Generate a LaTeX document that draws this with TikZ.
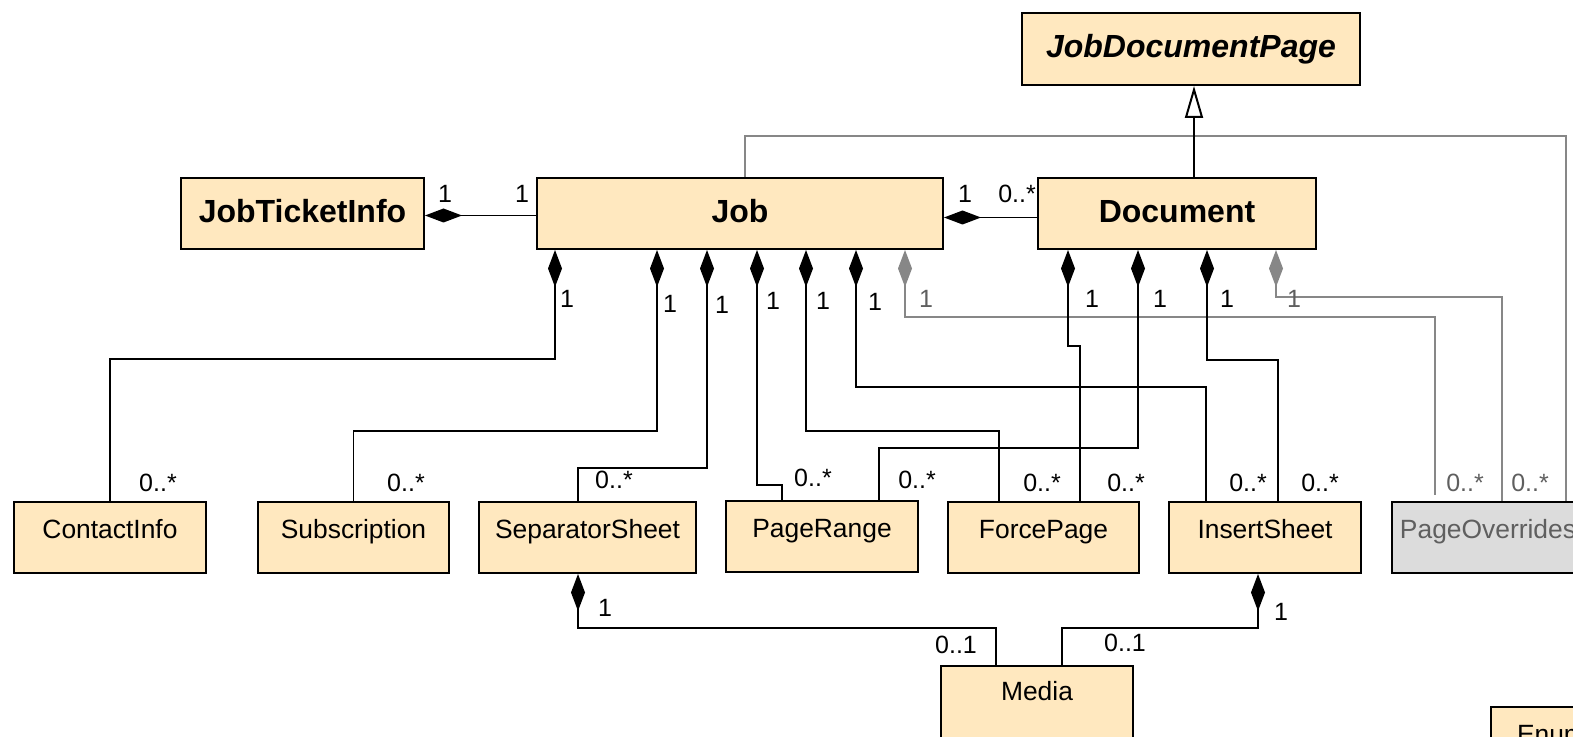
\documentclass[tikz,border=0pt]{standalone}
\usepackage{fontspec}
\setmainfont{Liberation Sans}
\usetikzlibrary{arrows.meta,calc}
\definecolor{clsfill}{RGB}{255,232,191}
\definecolor{ovrfill}{RGB}{220,220,220}
\definecolor{ovrline}{RGB}{135,135,135}
\definecolor{ovrtext}{RGB}{95,95,95}
\tikzset{
  cls/.style={draw, line width=1pt, fill=clsfill, anchor=north west, inner sep=0pt,
    font=\fontsize{13.2}{15}\selectfont, text height=18.2pt, text depth=17.3pt, minimum width=#1},
  cls/.default=96pt,
  bigcls/.style={cls=#1, font=\fontsize{16}{18}\selectfont\bfseries, text height=22.5pt, text depth=13pt},
  mult/.style={font=\fontsize{12.5}{14}\selectfont, inner sep=0pt},
  multg/.style={mult, text=ovrtext},
  comp/.style={draw, line width=0.8pt, {Diamond[length=18.5pt,width=7pt]}-},
  ovr/.style={draw=ovrline},
  gen/.style={draw, line width=0.8pt, -{Triangle[open,length=16pt,width=9pt,line width=1pt]}}
}
\begin{document}
\begin{tikzpicture}[x=0.5pt, y=-0.5pt]
    \clip (0,0) rectangle (1573,737);
    % classes
    \node[bigcls=169pt, font=\fontsize{16}{18}\selectfont\bfseries\itshape, text depth=13.5pt] (jdp) at (1021,12) {JobDocumentPage};
    \node[bigcls=121.5pt] (jti) at (180,177) {JobTicketInfo};
    \node[bigcls=203pt] (job) at (536,177) {Job};
    \node[bigcls=139pt] (doc) at (1037,177) {Document};
    \node[cls=96pt] (contact) at (13,501) {ContactInfo};
    \node[cls=95.5pt] (subscr) at (257,501) {Subscription};
    \node[cls=108.5pt] (sep) at (478,501) {SeparatorSheet};
    \node[cls=96pt] (prange) at (725,500) {PageRange};
    \node[cls=95.5pt] (force) at (947,501) {ForcePage};
    \node[cls=96pt] (insert) at (1168,501) {InsertSheet};
    \node[cls=96pt, fill=ovrfill, text=ovrtext] (povr) at (1391,501) {PageOverrides};
    \node[cls=96pt, text height=17pt, text depth=30pt] (media) at (940,665) {Media};
    \node[cls, inner xsep=3pt, text width=70pt, align=left] (enum) at (1490,706) {Enum};
    % job <-> neighbours
    \draw[comp] ($(jti.east)+(0,2)$) node[mult, xshift=10pt, yshift=11pt] {1}
        -- ($(job.west)+(0,2)$) node[mult, xshift=-7pt, yshift=11pt] {1};
    \draw[comp] ($(job.east)+(0,4)$) node[mult, xshift=10.5pt, yshift=11.75pt] {1}
        -- ($(doc.west)+(0,4)$) node[mult, xshift=-10pt, yshift=11.75pt] {0..*};
    \draw[ovr, line width=0.8pt] ($(job.north west)+(209,0)$) -- ++(0,-41) -| ($(povr.north west)+(175,0)$);
    \draw[gen] ($(doc.north west)+(157,0)$) -- ($(jdp.south west)+(173,0)$);
    % parts of job
    \draw[comp] ($(job.south west)+(19,0)$) node[mult, xshift=6pt, yshift=-24.5pt] {1}
        -- ++(0,109) -| (contact.north) node[mult, xshift=24pt, yshift=9pt] {0..*};
    \draw[comp] ($(job.south west)+(121,0)$) node[mult, xshift=6.5pt, yshift=-27pt] {1}
        -- ++(0,181) -| (subscr.north) node[mult, xshift=26.25pt, yshift=9pt] {0..*};
    \draw[comp] ($(job.south west)+(171,0)$) node[mult, xshift=7.5pt, yshift=-27.5pt] {1}
        -- ++(0,218) -| ($(sep.north west)+(100,0)$) node[mult, xshift=18pt, yshift=10.5pt] {0..*};
    \draw[comp] ($(job.south west)+(221,0)$) node[mult, xshift=8pt, yshift=-25.5pt] {1}
        -- ++(0,235) -| ($(prange.north west)+(57,0)$) node[mult, xshift=15.5pt, yshift=11pt] {0..*};
    \draw[comp] ($(job.south west)+(270,0)$) node[mult, xshift=8.5pt, yshift=-25.5pt] {1}
        -- ++(0,181) -| ($(force.north west)+(52,0)$) node[mult, xshift=21.5pt, yshift=9pt] {0..*};
    \draw[comp] ($(job.south west)+(320,0)$) node[mult, xshift=9.5pt, yshift=-26pt] {1}
        -- ++(0,137) -| ($(insert.north west)+(38,0)$) node[mult, xshift=21pt, yshift=9pt] {0..*};
    \draw[comp, ovr] ($(job.south west)+(369,0)$) node[multg, xshift=10.5pt, yshift=-24.5pt] {1}
        -- ++(0,67) -| ($(povr.north west)+(44,-6)$) node[multg, xshift=15pt, yshift=6pt] {0..*};
    % parts of document
    \draw[comp] ($(doc.south west)+(31,0)$) node[mult, xshift=12pt, yshift=-24.5pt] {1}
        -- ++(0,96) -| ($(force.north west)+(133,0)$) node[mult, xshift=23pt, yshift=9pt] {0..*};
    \draw[comp] ($(doc.south west)+(101,0)$) node[mult, xshift=11pt, yshift=-24.5pt] {1}
        -- ++(0,198) -| ($(prange.north west)+(154,0)$) node[mult, xshift=19pt, yshift=10pt] {0..*};
    \draw[comp] ($(doc.south west)+(170,0)$) node[mult, xshift=10pt, yshift=-24.5pt] {1}
        -- ++(0,110) -| ($(insert.north west)+(110,0)$) node[mult, xshift=21pt, yshift=9pt] {0..*};
    \draw[comp, ovr] ($(doc.south west)+(239,0)$) node[multg, xshift=9pt, yshift=-24.5pt] {1}
        -- ++(0,47) -| ($(povr.north west)+(111,0)$) node[multg, xshift=14pt, yshift=9pt] {0..*};
    % media
    \draw[comp] ($(sep.south west)+(100,0)$) node[mult, xshift=13.5pt, yshift=-17pt] {1}
        -- ++(0,54) -| ($(media.north west)+(56,0)$) node[mult, xshift=-20pt, yshift=10pt] {0..1};
    \draw[comp] ($(insert.south west)+(90,0)$) node[mult, xshift=11.5pt, yshift=-19pt] {1}
        -- ++(0,54) -| ($(media.north west)+(122,0)$) node[mult, xshift=31.5pt, yshift=11pt] {0..1};
\end{tikzpicture}
\end{document}
